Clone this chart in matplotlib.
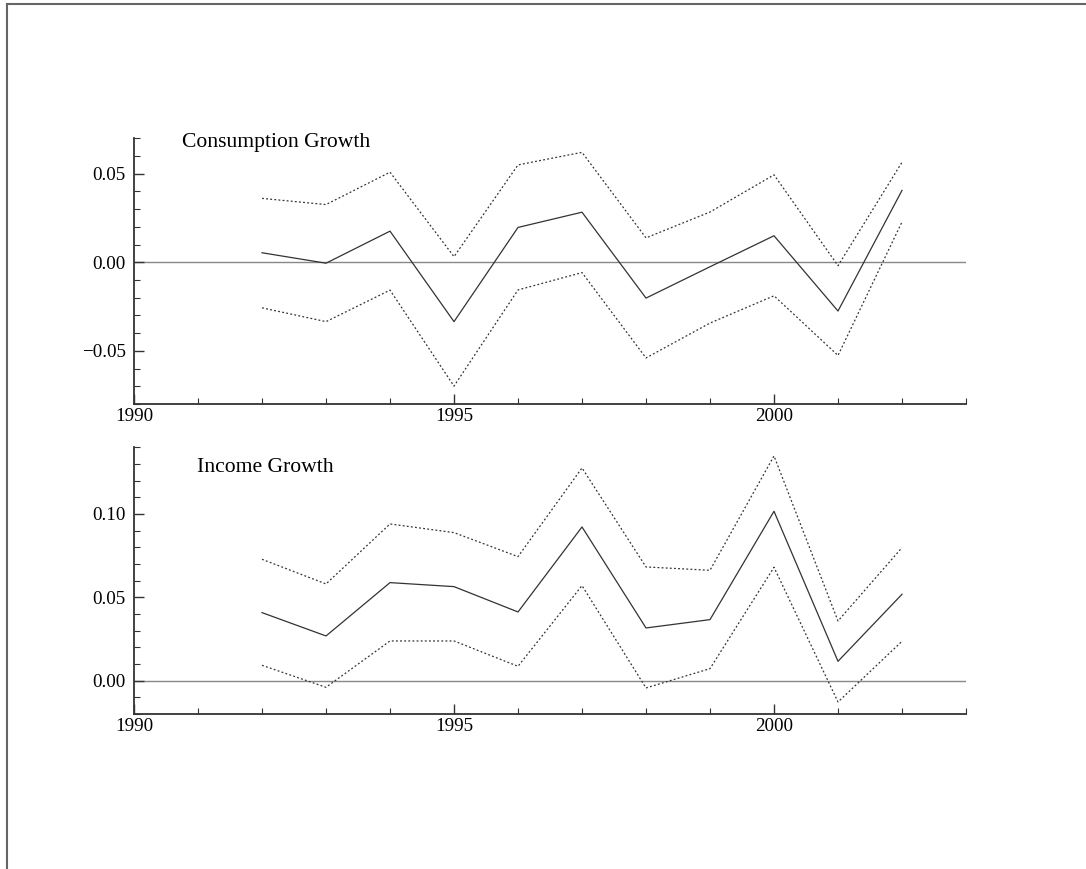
import matplotlib
matplotlib.use("Agg")
import matplotlib.pyplot as plt
from matplotlib.ticker import MultipleLocator, FuncFormatter

plt.rcParams['font.family'] = ['Liberation Serif', 'DejaVu Serif']

years = [1992, 1993, 1994, 1995, 1996, 1997, 1998, 1999, 2000, 2001, 2002]

# consumption growth: estimate and bands
cons_mid = [0.0054, -0.0005, 0.0176, -0.0335, 0.0197, 0.0283, -0.0202, -0.0025, 0.0150, -0.0275, 0.0406]
cons_hi = [0.0361, 0.0326, 0.0509, 0.0032, 0.0550, 0.0621, 0.0138, 0.0284, 0.0494, -0.0019, 0.0565]
cons_lo = [-0.0257, -0.0335, -0.0157, -0.0699, -0.0156, -0.0058, -0.0540, -0.0343, -0.0189, -0.0526, 0.0228]

# income growth: estimate and bands
inc_mid = [0.0408, 0.0268, 0.0588, 0.0564, 0.0412, 0.0922, 0.0316, 0.0366, 0.1016, 0.0116, 0.0518]
inc_hi = [0.0728, 0.0580, 0.0940, 0.0888, 0.0744, 0.1276, 0.0682, 0.0662, 0.1348, 0.0358, 0.0798]
inc_lo = [0.0092, -0.0040, 0.0238, 0.0238, 0.0086, 0.0570, -0.0044, 0.0072, 0.0680, -0.0128, 0.0236]

axis_col = '#333333'
line_col = '#333333'


def fmt(v, pos):
    s = '%.2f' % abs(v)
    return ('\u2212' + s) if v < -1e-9 else s


def panel(ax, mid, hi, lo, title, ylim, tx, ty):
    ax.axhline(0, color='#888888', lw=1.0, zorder=1)
    ax.plot(years, mid, color=line_col, lw=0.9)
    ax.plot(years, hi, color=line_col, lw=0.9, ls=(0, (1.5, 1.8)))
    ax.plot(years, lo, color=line_col, lw=0.9, ls=(0, (1.5, 1.8)))
    ax.set_xlim(1990, 2003)
    ax.set_ylim(*ylim)
    for s in ['top', 'right']:
        ax.spines[s].set_visible(False)
    for s in ['left', 'bottom']:
        ax.spines[s].set_color(axis_col)
        ax.spines[s].set_linewidth(1.3)
    ax.xaxis.set_major_locator(MultipleLocator(5))
    ax.xaxis.set_minor_locator(MultipleLocator(1))
    ax.yaxis.set_major_locator(MultipleLocator(0.05))
    ax.yaxis.set_minor_locator(MultipleLocator(0.01))
    ax.yaxis.set_major_formatter(FuncFormatter(fmt))
    ax.tick_params(which='both', direction='in', colors=axis_col, labelcolor='black', labelsize=13.7)
    ax.tick_params(which='major', length=7, width=1.0)
    ax.tick_params(which='minor', length=4, width=0.8)
    ax.tick_params(axis='x', pad=3)
    ax.tick_params(axis='y', pad=6)
    ax.text(tx, ty, title, fontsize=15.6, va='center', ha='left')


fig = plt.figure(figsize=(10.86, 8.69), dpi=100)
ax1 = fig.add_axes([0.1234, 0.5351, 0.7661, 0.3057])
ax2 = fig.add_axes([0.1234, 0.1784, 0.7661, 0.3069])

panel(ax1, cons_mid, cons_hi, cons_lo, 'Consumption Growth', (-0.08, 0.07), 1990.75, 0.0676)
panel(ax2, inc_mid, inc_hi, inc_lo, 'Income Growth', (-0.02, 0.14), 1990.98, 0.128)

# frame around the graphic (only left and top edges are visible)
fig.add_artist(plt.Line2D([0.0060, 0.0060], [0, 0.9950], transform=fig.transFigure, color='#666666', lw=1.5))
fig.add_artist(plt.Line2D([0.0060, 1.0], [0.9950, 0.9950], transform=fig.transFigure, color='#666666', lw=1.5))

fig.savefig('out.png', dpi=100)
